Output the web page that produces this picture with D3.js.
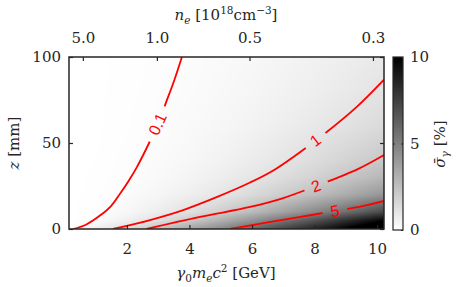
<!DOCTYPE html>
<html>
<head>
<meta charset="utf-8">
<script src="https://cdn.jsdelivr.net/npm/d3@7"></script>
<style>
  body { margin: 0; background: #fff; }
  text { font-family: "DejaVu Serif", serif; fill: #262626; }
</style>
</head>
<body>
<svg id="chart" width="463" height="287"></svg>
<script>
// beam energy [GeV] and propagation distance z [mm] of the sigma grid
var energy = [0.15, 1, 2, 3, 4, 5, 6, 7, 8, 9, 10.22];
var zPos = [0, 5, 10, 20, 30, 40, 60, 80, 100];
// relative energy spread [%], one row per zPos entry
var sigma = [
  [0.05, 0.56, 1.39, 2.37, 3.47, 4.65, 5.92, 7.26, 8.65, 10.1, 11.9],
  [0.00, 0.15, 0.57, 1.23, 2.08, 3.08, 4.20, 5.43, 6.74, 8.13, 9.89],
  [0.00, 0.08, 0.31, 0.69, 1.21, 1.88, 2.66, 3.56, 4.56, 5.66, 7.10],
  [0.00, 0.04, 0.16, 0.36, 0.64, 1.00, 1.44, 1.97, 2.56, 3.24, 4.14],
  [0.00, 0.03, 0.10, 0.24, 0.43, 0.68, 0.98, 1.34, 1.75, 2.22, 2.86],
  [0.00, 0.02, 0.08, 0.18, 0.32, 0.51, 0.74, 1.01, 1.33, 1.69, 2.17],
  [0.00, 0.01, 0.05, 0.12, 0.22, 0.34, 0.49, 0.68, 0.89, 1.13, 1.46],
  [0.00, 0.01, 0.04, 0.09, 0.16, 0.26, 0.37, 0.51, 0.67, 0.85, 1.10],
  [0.00, 0.01, 0.03, 0.07, 0.13, 0.21, 0.30, 0.41, 0.54, 0.68, 0.88]
];

// contour lines [energy, z]
var contourLevels = ["0.1", "1", "2", "5"];
var contour01 = [[0.28, 0], [0.69, 2.5], [1.14, 7.8], [1.5, 13.5], [1.78, 20.5], [2.05, 27.8], [2.32, 36], [2.71, 50], [3.0, 61.5], [3.25, 73.5], [3.51, 86.2], [3.76, 100]];
var contour1 = [[1.56, 0], [2.74, 5.2], [3.8, 11], [4.87, 18.5], [5.94, 27], [6.68, 34], [7.75, 47.5], [8.33, 55.5], [9.35, 71], [10.22, 86.8]];
var contour2 = [[2.63, 0], [4.34, 7], [5.94, 12.8], [7, 18], [8.05, 25], [9.35, 34.5], [10.22, 43]];
var contour5 = [[5.3, 0], [6.5, 3.8], [7.6, 7.2], [8.65, 10.5], [9.5, 13.2], [10.22, 16.3]];
var contourLabelAt = [[2.98, 61], [8.03, 51.5], [8.05, 25], [8.65, 10.5]];

var xTicks = [2, 4, 6, 8, 10];
var yTicks = [0, 50, 100];
var colorTicks = [0, 5, 10];
var neTicks = [5.0, 1.0, 0.5, 0.3];
var gevPerNe = 2.96; // gamma0 m_e c^2 [GeV] = 2.96 / n_e [1e18 cm^-3]

var
  width = 463,
  height = 287,
  plot = {left: 69, right: 384, top: 57, bottom: 229},
  bar = {left: 393, right: 403},
  fontSize = 15,
  axisColor = "#262626";

var x = d3.scaleLinear().domain([0.15, 10.22]).range([plot.left, plot.right]);
var y = d3.scaleLinear().domain([0, 100]).range([plot.bottom, plot.top]);
var cScale = d3.scaleLinear().domain([0, 10]).range([plot.bottom + 1, plot.top]);

var svg = d3.select("#chart");
var defs = svg.append("defs");

// ---- heat map (bilinear between grid nodes) ----
(function heatMap() {
  var cw = plot.right - plot.left, ch = plot.bottom - plot.top;
  var canvas = document.createElement("canvas");
  canvas.width = cw; canvas.height = ch;
  var ctx = canvas.getContext("2d");
  var img = ctx.createImageData(cw, ch);

  function bracket(arr, v) {
    var i = d3.bisectRight(arr, v) - 1;
    i = Math.max(0, Math.min(arr.length - 2, i));
    var t = (v - arr[i]) / (arr[i + 1] - arr[i]);
    return [i, Math.max(0, Math.min(1, t))];
  }

  for (var j = 0; j < ch; j++) {
    var b = bracket(zPos, y.invert(plot.top + j + 0.5));
    for (var i = 0; i < cw; i++) {
      var a = bracket(energy, x.invert(plot.left + i + 0.5));
      var s0 = sigma[b[0]], s1 = sigma[b[0] + 1];
      var v = (1 - a[1]) * (1 - b[1]) * s0[a[0]] + a[1] * (1 - b[1]) * s0[a[0] + 1] +
              (1 - a[1]) * b[1] * s1[a[0]] + a[1] * b[1] * s1[a[0] + 1];
      var g = Math.round(255 * (1 - Math.max(0, Math.min(1, v / 10))));
      var k = (j * cw + i) * 4;
      img.data[k] = g; img.data[k + 1] = g; img.data[k + 2] = g; img.data[k + 3] = 255;
    }
  }
  ctx.putImageData(img, 0, 0);

  svg.append("image")
    .attr("x", plot.left).attr("y", plot.top)
    .attr("width", cw).attr("height", ch)
    .attr("preserveAspectRatio", "none")
    .attr("href", canvas.toDataURL());
})();

// ---- contours with labels ----
(function contours() {
  defs.append("clipPath").attr("id", "plotClip")
    .append("rect")
    .attr("x", plot.left).attr("y", plot.top)
    .attr("width", plot.right - plot.left).attr("height", plot.bottom - plot.top);

  var mask = defs.append("mask").attr("id", "labelGaps")
    .attr("maskUnits", "userSpaceOnUse")
    .attr("x", 0).attr("y", 0).attr("width", width).attr("height", height);
  mask.append("rect").attr("width", width).attr("height", height).attr("fill", "#fff");

  var line = d3.line()
    .x(function (d) { return x(d[0]); })
    .y(function (d) { return y(d[1]); })
    .curve(d3.curveCatmullRom);

  var lines = [contour01, contour1, contour2, contour5];

  svg.append("g")
    .attr("clip-path", "url(#plotClip)")
    .append("g")
    .attr("mask", "url(#labelGaps)")
    .selectAll("path")
    .data(lines).enter()
    .append("path")
    .attr("d", line)
    .attr("fill", "none")
    .attr("stroke", "#ff0000")
    .attr("stroke-width", 1.8);

  var labelGroup = svg.append("g");
  lines.forEach(function (pts, n) {
    var px = x(contourLabelAt[n][0]), py = y(contourLabelAt[n][1]);
    var best = 0, bestD = Infinity;
    for (var i = 0; i < pts.length - 1; i++) {
      var mx = (x(pts[i][0]) + x(pts[i + 1][0])) / 2, my = (y(pts[i][1]) + y(pts[i + 1][1])) / 2;
      var d = (mx - px) * (mx - px) + (my - py) * (my - py);
      if (d < bestD) { bestD = d; best = i; }
    }
    var ang = Math.atan2(y(pts[best + 1][1]) - y(pts[best][1]), x(pts[best + 1][0]) - x(pts[best][0])) * 180 / Math.PI;
    if (ang < -90) ang += 180;
    if (ang > 90) ang -= 180;

    var t = labelGroup.append("text")
      .attr("transform", "translate(" + px + "," + py + ") rotate(" + ang + ")")
      .attr("text-anchor", "middle")
      .attr("dy", "0.35em")
      .style("font-family", "'Liberation Sans', Arial, sans-serif")
      .style("font-size", "16px")
      .style("fill", "#ff0000")
      .text(contourLevels[n]);
    var w = t.node().getComputedTextLength() + 16;
    mask.append("rect")
      .attr("x", -w / 2).attr("y", -9).attr("width", w).attr("height", 18)
      .attr("transform", "translate(" + px + "," + py + ") rotate(" + ang + ")")
      .attr("fill", "#000");
  });
})();

// ---- axes ----
function styleAxis(g) {
  g.select(".domain").remove();
  g.selectAll(".tick line").attr("stroke", axisColor).attr("stroke-width", 1.2);
  g.selectAll(".tick text")
    .attr("font-family", null).attr("fill", null)
    .style("font-size", fontSize + "px");
  g.attr("font-family", null).attr("font-size", null);
}

svg.append("g")
  .attr("transform", "translate(0," + plot.bottom + ")")
  .call(d3.axisBottom(x).tickValues(xTicks).tickSizeInner(-4).tickSizeOuter(0).tickPadding(14).tickFormat(d3.format("d")))
  .call(styleAxis);

svg.append("g")
  .attr("transform", "translate(0," + plot.top + ")")
  .call(d3.axisTop(x).tickValues(neTicks.map(function (n) { return gevPerNe / n; })).tickSizeInner(-4).tickSizeOuter(0).tickPadding(14)
    .tickFormat(function (d, i) { return neTicks[i].toFixed(1); }))
  .call(styleAxis);

svg.append("g")
  .attr("transform", "translate(" + plot.left + ",0)")
  .call(d3.axisLeft(y).tickValues(yTicks).tickSizeInner(-4).tickSizeOuter(0).tickPadding(8))
  .call(styleAxis);

svg.append("g")
  .attr("transform", "translate(" + plot.right + ",0)")
  .call(d3.axisRight(y).tickValues(yTicks).tickSizeInner(-4).tickSizeOuter(0).tickFormat(""))
  .call(styleAxis);

svg.append("rect")
  .attr("x", plot.left).attr("y", plot.top)
  .attr("width", plot.right - plot.left).attr("height", plot.bottom - plot.top)
  .attr("fill", "none").attr("stroke", axisColor).attr("stroke-width", 1.5);

// ---- colour bar ----
(function colorBar() {
  var grad = defs.append("linearGradient").attr("id", "grayGrad")
    .attr("x1", 0).attr("y1", 1).attr("x2", 0).attr("y2", 0);
  grad.append("stop").attr("offset", 0).attr("stop-color", "#fff");
  grad.append("stop").attr("offset", 1).attr("stop-color", "#000");

  svg.append("rect")
    .attr("x", bar.left).attr("y", cScale(10))
    .attr("width", bar.right - bar.left).attr("height", cScale(0) - cScale(10))
    .attr("fill", "url(#grayGrad)")
    .attr("stroke", axisColor).attr("stroke-width", 1.2);

  svg.append("g")
    .attr("transform", "translate(" + bar.right + ",0)")
    .call(d3.axisRight(cScale).tickValues(colorTicks).tickSizeInner(-2).tickSizeOuter(0).tickPadding(7))
    .call(styleAxis);
  svg.append("g")
    .attr("transform", "translate(" + bar.left + ",0)")
    .call(d3.axisLeft(cScale).tickValues([5]).tickSizeInner(-2).tickSizeOuter(0).tickFormat(""))
    .call(styleAxis);
})();

// ---- titles ----
function rich(sel, parts, size) {
  var cur = 0;
  parts.forEach(function (p) {
    var off = p[2] === 1 ? -0.4 * size : p[2] === -1 ? 0.25 * size : 0;
    sel.append("tspan")
      .attr("dy", off - cur)
      .style("font-style", p[1] ? "italic" : "normal")
      .style("font-size", (p[2] ? size * 0.7 : size) + "px")
      .text(p[0]);
    cur = off;
  });
}

rich(svg.append("text").attr("x", 226).attr("y", 278).attr("text-anchor", "middle"),
  [["γ", 1], ["0", 0, -1], ["m", 1], ["e", 1, -1], ["c", 1], ["2", 0, 1], [" [GeV]", 0]], fontSize);

rich(svg.append("text").attr("x", 226).attr("y", 20).attr("text-anchor", "middle"),
  [["n", 1], ["e", 1, -1], [" [10", 0], ["18", 0, 1], ["cm", 0], ["−3", 0, 1], ["]", 0]], fontSize);

rich(svg.append("text").attr("transform", "translate(19,143) rotate(-90)").attr("text-anchor", "middle"),
  [["z", 1], [" [mm]", 0]], fontSize);

rich(svg.append("text").attr("transform", "translate(445,144) rotate(-90)").attr("text-anchor", "middle"),
  [["σ̄", 1], ["γ", 1, -1], [" [%]", 0]], fontSize);
</script>
</body>
</html>
